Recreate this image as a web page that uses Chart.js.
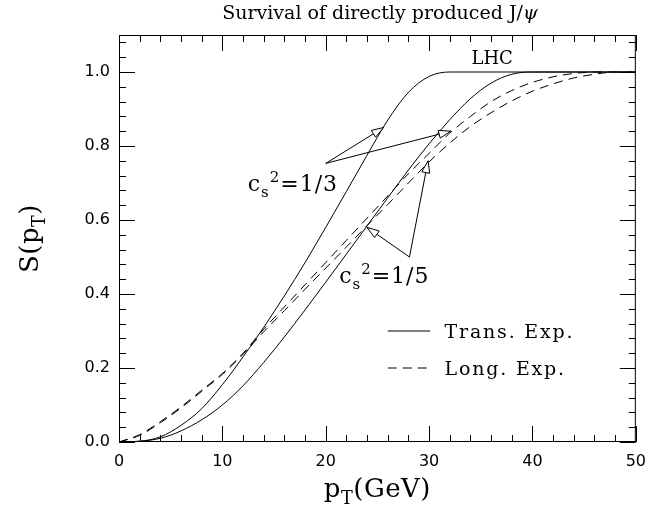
<!DOCTYPE html>
<html><head><meta charset="utf-8">
<script src="https://cdn.jsdelivr.net/npm/chart.js@4.4.0/dist/chart.umd.min.js"></script>
<style>html,body{margin:0;padding:0;background:#fff}</style>
</head><body>
<canvas id="c" width="656" height="514"></canvas>
<script>
// ---- data ----
const pT        = [0,2,4,6,8,10,12,14,16,18,20,22,24,26,28,30,32,34,36,38,40,42,44,46,48,50];
const transCs3  = [0,0.002,0.014,0.045,0.09,0.155,0.23,0.31,0.395,0.485,0.58,0.677,0.775,0.87,0.945,0.988,1.0,1.0,1.0,1.0,1.0,1.0,1.0,1.0,1.0,1.0];
const transCs5  = [0,0.002,0.01,0.03,0.06,0.10,0.152,0.215,0.284,0.357,0.432,0.508,0.584,0.66,0.735,0.806,0.871,0.928,0.97,0.994,1.0,1.0,1.0,1.0,1.0,1.0];
const longCs3   = [0,0.02,0.055,0.095,0.14,0.185,0.24,0.305,0.365,0.425,0.485,0.545,0.605,0.665,0.725,0.78,0.835,0.88,0.92,0.95,0.972,0.987,0.996,1.0,1.0,1.0];
const longCs5   = [0,0.018,0.052,0.092,0.137,0.183,0.237,0.298,0.355,0.413,0.47,0.527,0.585,0.642,0.70,0.757,0.808,0.853,0.89,0.922,0.948,0.968,0.984,0.994,1.0,1.0];
const xTicks = [0,10,20,30,40,50];
const yTicks = [0,0.2,0.4,0.6,0.8,1.0];
const xMinorStep = 2, yMinorStep = 0.04;
const titleText = 'Survival of directly produced J/';
const legendLabels = ['Trans. Exp.','Long. Exp.'];
// arrows: [fromX, fromY, toX, toY] in data units
const arrows = [[20.0,0.753,25.6,0.85],[20.0,0.753,32.1,0.84],[28.1,0.50,24.0,0.58],[28.1,0.50,29.9,0.76]];

const SERIF = '"DejaVu Serif", "Liberation Serif", serif';
const SANS = '"DejaVu Sans", sans-serif';

function pts(ys){ return pT.map((x,i)=>({x:x,y:ys[i]})); }

function drawParts(ctx, x, y, parts, size, align, spacing){
  ctx.letterSpacing = (spacing||0) + 'px';
  let w = 0; const ms = [];
  for (const p of parts){
    const s = (p[1]===1||p[1]===2) ? size*0.68 : size;
    ctx.font = (p[1]===3?'italic ':'') + s + 'px ' + SERIF;
    const mw = ctx.measureText(p[0]).width; ms.push([s,mw]); w += mw;
  }
  let cx = align==='center' ? x - w/2 : x;
  ctx.textBaseline = 'alphabetic'; ctx.textAlign = 'left';
  parts.forEach((p,i)=>{
    const s = ms[i][0];
    ctx.font = (p[1]===3?'italic ':'') + s + 'px ' + SERIF;
    let dy = 0;
    if (p[1]===1) dy = size*0.28;
    if (p[1]===2) dy = -size*0.42;
    ctx.fillText(p[0], cx, y+dy);
    cx += ms[i][1];
  });
  ctx.letterSpacing = '0px';
}

function arrow(ctx, x1,y1,x2,y2){
  ctx.beginPath(); ctx.moveTo(x1,y1); ctx.lineTo(x2,y2); ctx.stroke();
  const a = Math.atan2(y2-y1,x2-x1), L=12, H=4;
  const bx = x2 - L*Math.cos(a), by = y2 - L*Math.sin(a);
  const px = -Math.sin(a)*H, py = Math.cos(a)*H;
  ctx.beginPath(); ctx.moveTo(x2,y2); ctx.lineTo(bx+px,by+py); ctx.lineTo(bx-px,by-py); ctx.closePath();
  ctx.fillStyle='#fff'; ctx.fill(); ctx.stroke();
}

const framePlugin = {
  id:'frame',
  afterDraw(chart){
    const ctx = chart.ctx, a = chart.chartArea, xs = chart.scales.x, ys = chart.scales.y;
    ctx.save();
    ctx.strokeStyle = '#000'; ctx.fillStyle='#000'; ctx.lineWidth = 1;
    ctx.strokeRect(a.left+0.5, a.top+0.5, a.right-a.left-1, a.bottom-a.top-1);
    // ticks on all sides
    ctx.beginPath();
    for (let v = xs.min; v <= xs.max + 1e-9; v += xMinorStep){
      const major = xTicks.some(t=>Math.abs(t-v)<1e-6);
      const L = major ? 16 : 7, px = Math.round(xs.getPixelForValue(v))+0.5;
      ctx.moveTo(px,a.bottom); ctx.lineTo(px,a.bottom-L);
      ctx.moveTo(px,a.top); ctx.lineTo(px,a.top+L);
    }
    for (let k = 0; k*yMinorStep <= ys.max + 1e-9; k++){
      const v = k*yMinorStep;
      const major = yTicks.some(t=>Math.abs(t-v)<1e-6);
      const L = major ? 16 : 7, py = Math.round(ys.getPixelForValue(v))+0.5;
      ctx.moveTo(a.left,py); ctx.lineTo(a.left+L,py);
      ctx.moveTo(a.right,py); ctx.lineTo(a.right-L,py);
    }
    ctx.stroke();
    // title
    ctx.fillStyle='#000';
    drawParts(ctx, 380, 19, [[titleText,0],['ψ',3]], 19, 'center');
    // axis titles
    drawParts(ctx, (a.left+a.right)/2, 497, [['p',0],['T',1],['(GeV)',0]], 26, 'center', 0.5);
    ctx.save(); ctx.translate(38, (a.top+a.bottom)/2); ctx.rotate(-Math.PI/2);
    drawParts(ctx, 0, 0, [['S(p',0],['T',1],[')',0]], 26, 'center', 0.5);
    ctx.restore();
    // LHC
    drawParts(ctx, xs.getPixelForValue(36.1), ys.getPixelForValue(1.04)+7, [['LHC',0]], 18, 'center');
    // cs labels
    drawParts(ctx, xs.getPixelForValue(12.45), ys.getPixelForValue(0.678), [['c',0],['s',1],['2',2],['=1/3',0]], 22, 'left', 1);
    drawParts(ctx, xs.getPixelForValue(21.3), ys.getPixelForValue(0.43), [['c',0],['s',1],['2',2],['=1/5',0]], 22, 'left', 1);
    // arrows
    for (const r of arrows){
      arrow(ctx, xs.getPixelForValue(r[0]), ys.getPixelForValue(r[1]), xs.getPixelForValue(r[2]), ys.getPixelForValue(r[3]));
    }
    // legend
    const ly = [0.30, 0.20];
    ly.forEach((yv,i)=>{
      const py = ys.getPixelForValue(yv);
      ctx.beginPath(); ctx.setLineDash(i===0?[]:[9,6]);
      ctx.moveTo(xs.getPixelForValue(26), py); ctx.lineTo(xs.getPixelForValue(30.1), py); ctx.stroke();
      ctx.setLineDash([]);
      ctx.fillStyle='#000';
      drawParts(ctx, xs.getPixelForValue(31.5), py+7, [[legendLabels[i],0]], 19, 'left', 1.8);
    });
    ctx.restore();
  }
};

const line = (ys, dash)=>({data:pts(ys), showLine:true, borderColor:'#000', borderWidth:1, pointRadius:0, fill:false, cubicInterpolationMode:'monotone', borderDash:dash});

new Chart(document.getElementById('c').getContext('2d'), {
  type:'scatter',
  data:{datasets:[line(transCs3,[]), line(transCs5,[]), line(longCs3,[9,6]), line(longCs5,[9,6])]},
  options:{
    responsive:false, animation:false, devicePixelRatio:1,
    layout:{padding:{left:0,right:11,top:35,bottom:0}},
    plugins:{legend:{display:false}, tooltip:{enabled:false}, title:{display:false}},
    scales:{
      x:{type:'linear', min:0, max:50,
        afterFit(s){ s.height = 72; },
        afterBuildTicks(s){ s.ticks = xTicks.map(v=>({value:v})); },
        grid:{display:false, drawTicks:false}, border:{display:false},
        ticks:{padding:10, color:'#000', font:{family:SANS, size:16}, maxRotation:0, autoSkip:false, callback:v=>String(v)}},
      y:{type:'linear', min:0, max:1.1,
        afterFit(s){ s.width = 119; },
        afterBuildTicks(s){ s.ticks = yTicks.map(v=>({value:v})); },
        grid:{display:false, drawTicks:false}, border:{display:false},
        ticks:{padding:9, color:'#000', font:{family:SANS, size:16}, autoSkip:false, callback:v=>Number(v).toFixed(1)}}
    }
  },
  plugins:[framePlugin]
});
</script>
</body></html>
